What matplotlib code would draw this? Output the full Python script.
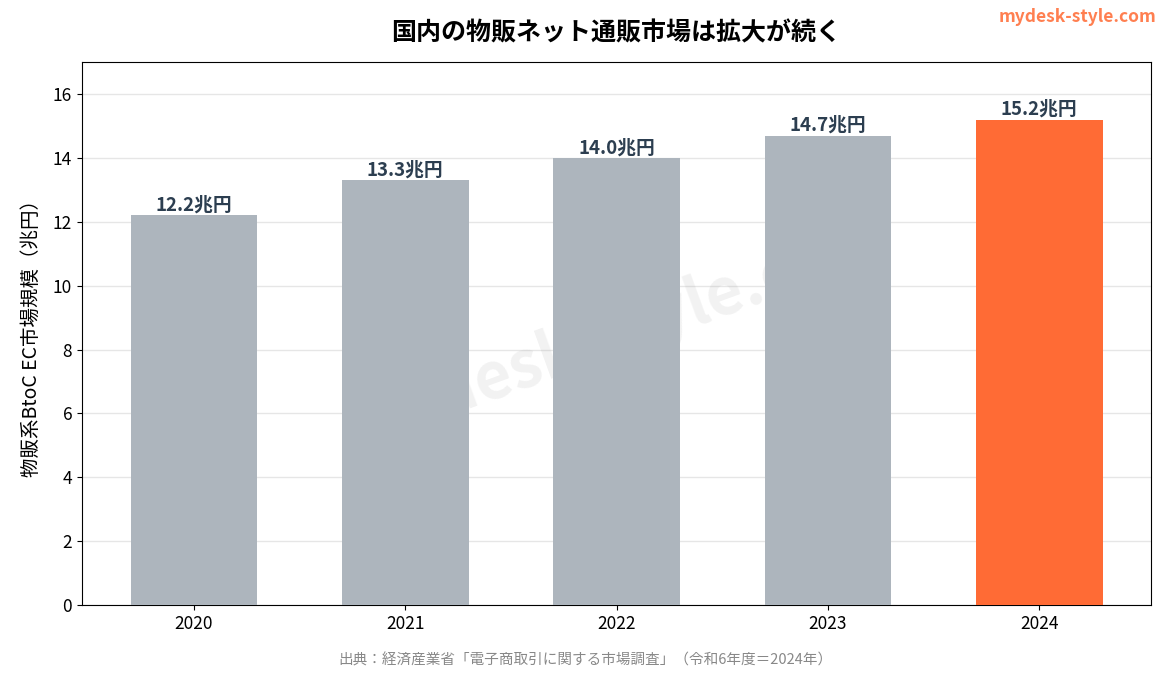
import matplotlib
matplotlib.use('Agg')
import matplotlib.pyplot as plt

plt.rcParams['font.family'] = ['Noto Sans CJK JP', 'DejaVu Sans']

years = ['2020', '2021', '2022', '2023', '2024']
values = [12.2, 13.3, 14.0, 14.7, 15.2]
colors = ['#adb5bd', '#adb5bd', '#adb5bd', '#adb5bd', '#ff6b35']

fig, ax = plt.subplots(figsize=(11.7, 6.76), dpi=100)
fig.subplots_adjust(left=0.07, right=0.984, top=0.908, bottom=0.105)

bars = ax.bar(years, values, width=0.6, color=colors, zorder=3)
for b, v in zip(bars, values):
    ax.text(b.get_x() + b.get_width() / 2, v + 0.02, f'{v:.1f}兆円',
            ha='center', va='bottom', fontsize=13.5, fontweight='bold',
            color='#2c3e50', zorder=4)

ax.set_ylim(0, 17)
ax.set_ylabel('物販系BtoC EC市場規模（兆円）', fontsize=14, labelpad=8)
ax.tick_params(labelsize=12.5)
ax.grid(axis='y', color='#e6e6e6', linewidth=1, zorder=0)
ax.set_axisbelow(True)
ax.set_title('国内の物販ネット通販市場は拡大が続く', fontsize=18,
             fontweight='bold', pad=16)

# watermark
ax.text(0.5, 0.5, 'mydesk-style.com', transform=ax.transAxes, fontsize=46,
        fontweight='bold', color='#999999', alpha=0.13, rotation=20,
        ha='center', va='center', zorder=1)

fig.text(0.988, 0.975, 'mydesk-style.com', ha='right', va='center',
         fontsize=12.5, fontweight='bold', color='#ff7f50')
fig.text(0.5, 0.012, '出典：経済産業省「電子商取引に関する市場調査」（令和6年度＝2024年）',
         ha='center', va='bottom', fontsize=10.5, color='#888888')

fig.savefig('out.png', dpi=100)
